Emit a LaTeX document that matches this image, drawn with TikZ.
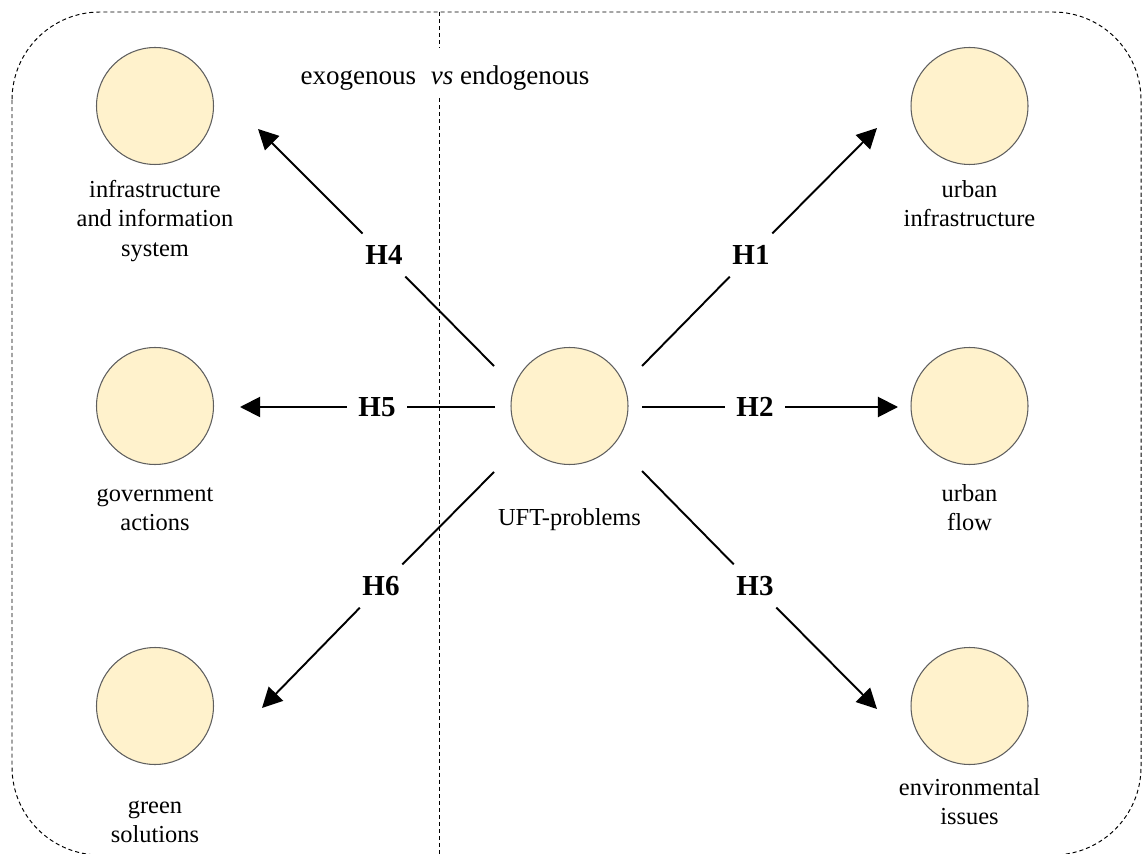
\documentclass[tikz,border=0pt]{standalone}
\usepackage{fontspec}
\setmainfont{Liberation Serif}
\usetikzlibrary{arrows.meta}
\definecolor{varfill}{HTML}{FFF2CC}
\definecolor{varline}{HTML}{5F5F5F}
\begin{document}
\begin{tikzpicture}[x=0.02cm,y=-0.02cm,
  var/.style={circle, draw=varline, fill=varfill, line width=0.6pt,
    minimum size=2.34cm, inner sep=0pt},
  caption/.style={anchor=north, inner sep=0pt, align=center,
    font=\fontsize{13.9}{16.8}\selectfont},
  hyp/.style={circle, minimum size=1.2cm, inner sep=0pt,
    font=\fontsize{16.5}{20}\selectfont\bfseries},
  link/.style={line width=1.1pt},
  effect/.style={link, -{Triangle[length=11.4pt, width=11.4pt]}},
  frame/.style={dash pattern=on 2.3pt off 1.7pt, line width=0.55pt}
]
\useasboundingbox (0,0) rectangle (1142,854);

% outer dashed frame
\draw[frame, rounded corners=1.76cm] (12,12) rectangle (1141,855);

% dividing line between the exogenous and endogenous sides
\coordinate (d1) at (439,12);
\coordinate (d2) at (439,48);
\coordinate (d3) at (439,98);
\coordinate (d4) at (439,855);
\draw[frame] (d1) -- (d2) (d3) -- (d4);
\node[anchor=base, inner sep=0pt, font=\fontsize{15.4}{18}\selectfont] (title)
  at (445,85) {exogenous\hspace{4.5pt} \textit{vs} endogenous};

% constructs
\node[var] (ufp) at (569.5,406) {};
\node[var] (infosys) at (155,106) {};
\node[var] (gov) at (155,406) {};
\node[var] (green) at (155,706) {};
\node[var] (urbinf) at (969.5,106) {};
\node[var] (flow) at (969.5,406) {};
\node[var] (env) at (969.5,706) {};

\node[caption] (infosysL) at (155,176) {\strut infrastructure\\and information\\system};
\node[caption] (govL) at (155,480) {\strut government\\actions};
\node[caption] (greenL) at (155,792) {\strut green\\solutions};
\node[caption] (urbinfL) at (969.5,176) {\strut urban\\infrastructure};
\node[caption] (flowL) at (969.5,480) {\strut urban\\flow};
\node[caption] (envL) at (969.5,774) {\strut environmental\\issues};
\node[caption] (ufpL) at (569.5,504) {\strut UFT-problems};

% hypothesised paths
\coordinate (s1) at (642,366);
\coordinate (s2) at (642,407);
\coordinate (s3) at (642,471);
\coordinate (s4) at (494,366);
\coordinate (s5) at (495,407);
\coordinate (s6) at (494,472);
\coordinate (e1) at (877,128);
\coordinate (e2) at (898,407);
\coordinate (e3) at (877,709);
\coordinate (e4) at (258,129);
\coordinate (e5) at (240,407);
\coordinate (e6) at (262,708);

\node[hyp] (h1) at (751,255) {H1};
\node[hyp] (h2) at (755,407) {H2};
\node[hyp] (h3) at (755,586) {H3};
\node[hyp] (h4) at (384,255) {H4};
\node[hyp] (h5) at (377,407) {H5};
\node[hyp] (h6) at (381,586) {H6};

\foreach \i in {1,...,6}{
  \draw[link] (s\i) -- (h\i);
  \draw[effect] (h\i) -- (e\i);
}
\end{tikzpicture}
\end{document}
